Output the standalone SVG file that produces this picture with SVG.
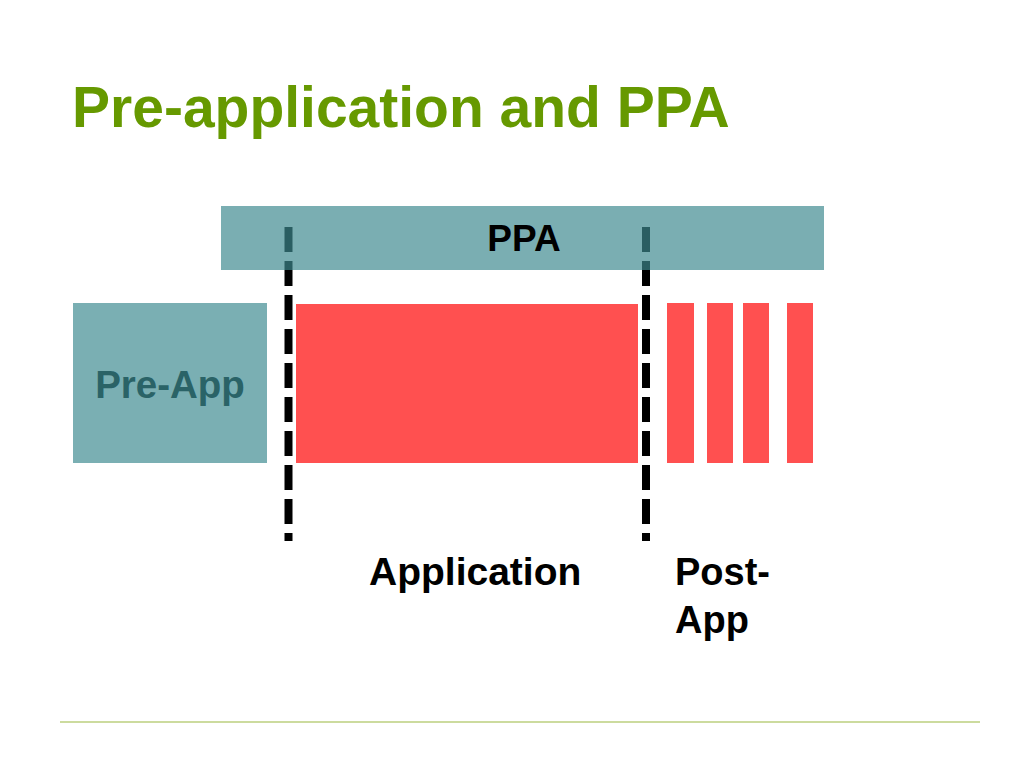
<svg xmlns="http://www.w3.org/2000/svg" width="1024" height="768" viewBox="0 0 1024 768">
<style>
.t{font-family:"Liberation Sans",Arial,sans-serif;font-weight:bold}
.teal{fill:#7aafb3}
.red{fill:#ff5050}
.dash{stroke:#000;stroke-width:8;stroke-dasharray:25 9;fill:none}
</style>
<rect width="1024" height="768" fill="#fff"/>
<text class="t" x="72" y="127" font-size="57" fill="#669900">Pre-application and PPA</text>
<g id="application"><rect class="red" x="296" y="304" width="342" height="159"/></g>
<g id="post-bars">
<rect class="red" x="667" y="303" width="27" height="160"/>
<rect class="red" x="707" y="303" width="26" height="160"/>
<rect class="red" x="743" y="303" width="26" height="160"/>
<rect class="red" x="787" y="303" width="26" height="160"/>
</g>
<g id="connectors">
<line class="dash" x1="288.5" y1="227" x2="288.5" y2="541"/>
<line class="dash" x1="646" y1="227" x2="646" y2="541"/>
</g>
<g id="ppa">
<rect x="221" y="206" width="603" height="64" fill="#3d898f" fill-opacity="0.686"/>
<text class="t" x="524" y="251" font-size="37" text-anchor="middle" fill="#000">PPA</text>
</g>
<g id="pre-app">
<rect class="teal" x="73" y="303" width="194" height="160"/>
<text class="t" x="170" y="398" font-size="38.5" text-anchor="middle" fill="#2a6367">Pre-App</text>
</g>
<g id="labels">
<text class="t" x="369" y="585" font-size="39" fill="#000">Application</text>
<text class="t" x="675" y="585" font-size="38" fill="#000">Post-</text>
<text class="t" x="675" y="633" font-size="38" fill="#000">App</text>
</g>
<line x1="60" y1="722" x2="980" y2="722" stroke="#9ab83e" stroke-width="1.2"/>
</svg>
